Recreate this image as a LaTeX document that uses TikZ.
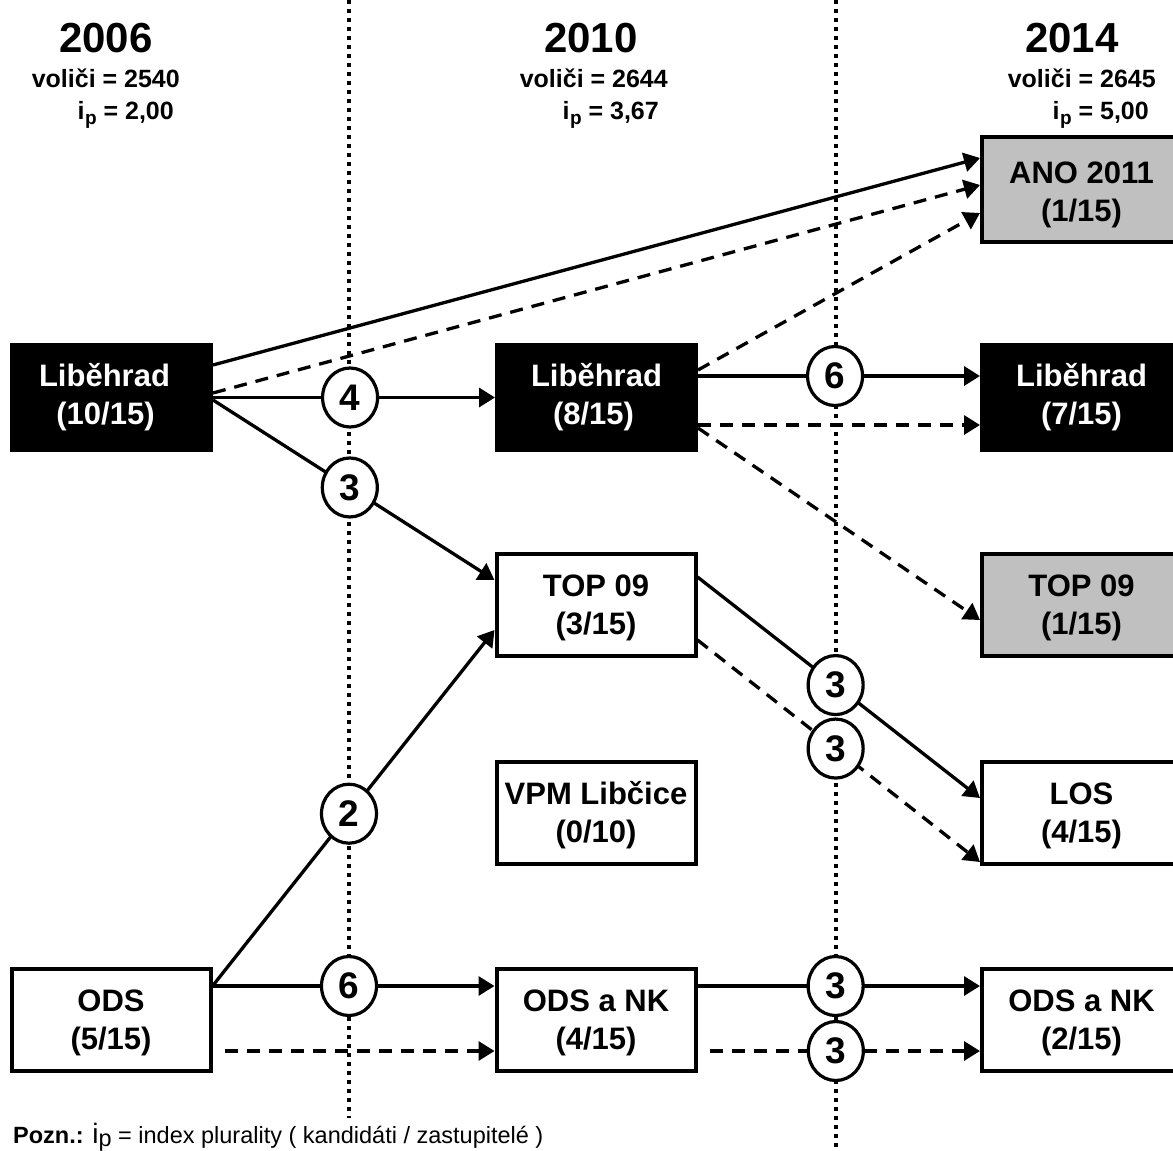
\documentclass[tikz,border=0pt]{standalone}
\usepackage{fontspec}
\setmainfont{Liberation Sans}
\usetikzlibrary{arrows.meta,shapes.geometric,calc}
\definecolor{boxgray}{RGB}{192,192,192}
\newcommand{\pbfont}{\fontsize{31}{38}\selectfont\bfseries}
\newcommand{\pyearfont}{\fontsize{42}{46}\selectfont\bfseries}
\newcommand{\pinfofont}{\fontsize{25}{30}\selectfont\bfseries}
\newcommand{\pnumfont}{\fontsize{37}{40}\selectfont\bfseries}
\newcommand{\pnotefont}{\fontsize{23.5}{27}\selectfont}
\newcommand{\pip}{i\kern0.5pt\raisebox{-5pt}{\fontsize{19}{19}\selectfont p}}
\newcommand{\pdown}[1]{\rule{0pt}{#1pt}}
\begin{document}
\begin{tikzpicture}[x=1pt,y=-1pt,
  partybox/.style={draw=black, line width=4pt, minimum width=199pt, minimum height=102pt,
    align=center, font=\pbfont, inner sep=0pt},
  tallbox/.style={minimum height=105pt},
  blackbox/.style={partybox, tallbox, fill=black, text=white},
  graybox/.style={partybox, fill=boxgray},
  whitebox/.style={partybox, fill=white},
  num/.style={ellipse, draw=black, solid, fill=white, line width=3.2pt, minimum width=55pt,
    minimum height=59pt, inner sep=0pt, font=\pnumfont},
  flow/.style={line width=3.3pt, -{Triangle[length=16pt,width=19pt]}},
  dflow/.style={flow, dash pattern=on 13pt off 9pt},
  divider/.style={line width=3.5pt, dash pattern=on 4pt off 5pt},
  yearlabel/.style={font=\pyearfont, inner sep=0pt},
  infolabel/.style={font=\pinfofont, inner sep=0pt},
]
\useasboundingbox (0,0) rectangle (1173,1151);
\clip (0,0) rectangle (1173,1151);

% dividers between the election years
\coordinate (d1t) at (349,0);
\coordinate (d1b) at (349,1118);
\coordinate (d2t) at (836,0);
\coordinate (d2b) at (836,1151);
\draw[divider] (d1t) -- (d1b);
\draw[divider] (d2t) -- (d2b);

% headings
\node[yearlabel] (y06) at (106,38.5) {2006};
\node[infolabel, anchor=base east] (v06) at (180,87) {voliči = 2540};
\node[infolabel, anchor=base east] (i06) at (174,119) {\pip{} = 2,00};
\node[yearlabel] (y10) at (591,38.5) {2010};
\node[infolabel, anchor=base east] (v10) at (668,87) {voliči = 2644};
\node[infolabel, anchor=base east] (i10) at (659,119) {\pip{} = 3,67};
\node[yearlabel] (y14) at (1072,38.5) {2014};
\node[infolabel, anchor=base east] (v14) at (1156,87) {voliči = 2645};
\node[infolabel, anchor=base east] (i14) at (1149,119) {\pip{} = 5,00};

% party boxes
\node[blackbox] (lib06) at (111.5,397.5) {Liběhrad\hspace*{14pt}\\(10/15)\hspace*{12pt}};
\node[blackbox] (lib10) at (596.5,397.5) {Liběhrad\\(8/15)\hspace*{6pt}};
\node[blackbox] (lib14) at (1081.5,397.5) {Liběhrad\\(7/15)};
\node[graybox, tallbox] (ano) at (1081.5,189.5) {\pdown{33}ANO 2011\\(1/15)};
\node[whitebox] (top10) at (596,605) {\pdown{28}TOP 09\\(3/15)};
\node[graybox] (top14) at (1081.5,605) {\pdown{28}TOP 09\\(1/15)};
\node[whitebox] (vpm) at (596,812.5) {\pdown{28}VPM Libčice\\(0/10)};
\node[whitebox] (los) at (1081.5,812.5) {\pdown{28}LOS\\(4/15)};
\node[whitebox] (ods) at (111,1020) {\pdown{28}ODS\\(5/15)};
\node[whitebox] (odsnk10) at (596,1020) {\pdown{28}ODS a NK\\(4/15)};
\node[whitebox] (odsnk14) at (1081.5,1020) {\pdown{28}ODS a NK\\(2/15)};

% flows
\draw[flow] ($(lib06.east)+(0,-32.5)$) -- ($(ano.west)+(0,-31.5)$);
\draw[dflow] ($(lib06.east)+(0,-4.5)$) -- ($(ano.west)+(0,-4.5)$);
\draw[dflow] ($(lib10.east)+(0,-27.5)$) -- ($(ano.west)+(0,23.5)$);
\draw[flow] (lib06.east) -- node[num, pos=0.486] (n4) {4} (lib10.west);
\draw[flow] ($(lib06.east)+(0,2.5)$) -- node[num, pos=0.486] (n3a) {3} ($(top10.west)+(0,-25)$);
\draw[flow] ($(lib10.east)+(0,-21.5)$) -- node[num, pos=0.486] (n6a) {6} ($(lib14.west)+(0,-21.5)$);
\draw[dflow] ($(lib10.east)+(0,27.5)$) -- ($(lib14.west)+(0,27.5)$);
\draw[dflow] ($(lib10.east)+(0,30.5)$) -- ($(top14.west)+(0,15)$);
\draw[flow] ($(top10.east)+(0,-28)$) -- node[num, pos=0.489] (n3b) {3} ($(los.west)+(0,-14.5)$);
\draw[dflow] ($(top10.east)+(0,35)$) -- node[num, pos=0.489] (n3c) {3} ($(los.west)+(0,49.5)$);
\draw[flow] ($(ods.east)+(0,-34)$) -- node[num, pos=0.484] (n2) {2} ($(top10.west)+(0,25)$);
\draw[flow] ($(ods.east)+(0,-34)$) -- node[num, pos=0.484] (n6b) {6} ($(odsnk10.west)+(0,-34)$);
\draw[dflow] ($(ods.east)+(12,31)$) -- ($(odsnk10.west)+(0,31)$);
\draw[flow] ($(odsnk10.east)+(0,-34)$) -- node[num, pos=0.489] (n3d) {3} ($(odsnk14.west)+(0,-34)$);
\draw[dflow] ($(odsnk10.east)+(12,31)$) -- node[num, pos=0.467] (n3e) {3} ($(odsnk14.west)+(0,31)$);

% note
\node[font=\pnotefont, anchor=base west, inner sep=0pt] (note) at (13,1143)
  {\textbf{Pozn.:} {\fontsize{28}{28}\selectfont i}\raisebox{-3pt}{p} = index plurality ( kandidáti / zastupitelé )};
\end{tikzpicture}
\end{document}
